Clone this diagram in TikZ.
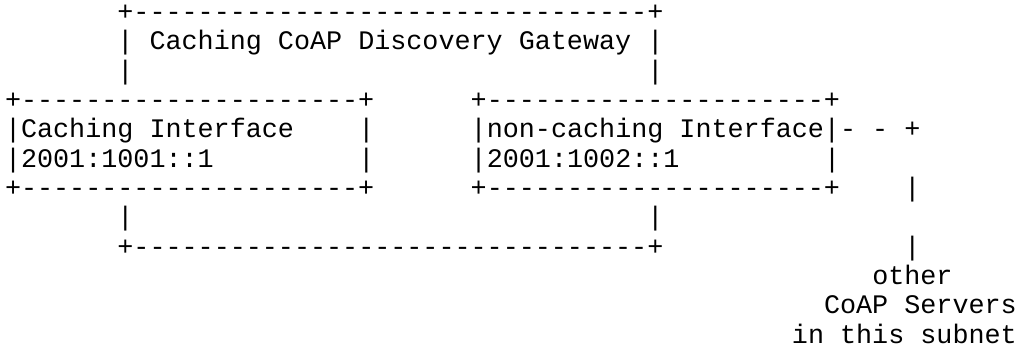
\documentclass[tikz,border=0pt]{standalone}
\usepackage{fontspec}
\setmonofont{Liberation Mono}
\usepackage{tikz}

\begin{document}
\begin{tikzpicture}[x=12.045pt,y=-21.975pt,
  ascii/.style={anchor=base west,inner sep=0pt,outer sep=0pt,
    font=\ttfamily\fontsize{20.07pt}{22pt}\selectfont}]
  \useasboundingbox (0pt,0pt) rectangle (765pt,-261.75pt);
  \begin{scope}[shift={(3.75pt,-15.525pt)}]
  % gateway box
  \node[ascii] (gwtop) at (7,0) {+--------------------------------+};
  \node[ascii] (gwl1) at (7,1) {|};
  \node[ascii] (gwname) at (9,1) {Caching CoAP Discovery Gateway};
  \node[ascii] (gwr1) at (40,1) {|};
  \node[ascii] (gwl2) at (7,2) {|};
  \node[ascii] (gwr2) at (40,2) {|};
  % caching interface
  \node[ascii] (ctop) at (0,3) {+---------------------+};
  \node[ascii] (cname) at (0,4) {|Caching Interface};
  \node[ascii] (cr1) at (22,4) {|};
  \node[ascii] (caddr) at (0,5) {|2001:1001::1};
  \node[ascii] (cr2) at (22,5) {|};
  \node[ascii] (cbot) at (0,6) {+---------------------+};
  % non-caching interface
  \node[ascii] (ntop) at (29,3) {+---------------------+};
  \node[ascii] (nname) at (29,4) {|non-caching Interface|- - +};
  \node[ascii] (naddr) at (29,5) {|2001:1002::1};
  \node[ascii] (nr2) at (51,5) {|};
  \node[ascii] (nbot) at (29,6) {+---------------------+};
  % bottom link
  \node[ascii] (bl1) at (7,7) {|};
  \node[ascii] (br1) at (40,7) {|};
  \node[ascii] (bbot) at (7,8) {+--------------------------------+};
  % other servers
  \node[ascii] (v1) at (56,6) {|};
  \node[ascii] (v2) at (56,8) {|};
  \node[ascii] (other) at (54,9) {other};
  \node[ascii] (srv) at (51,10) {CoAP Servers};
  \node[ascii] (subnet) at (49,11) {in this subnet};
  \end{scope}
\end{tikzpicture}
\end{document}
